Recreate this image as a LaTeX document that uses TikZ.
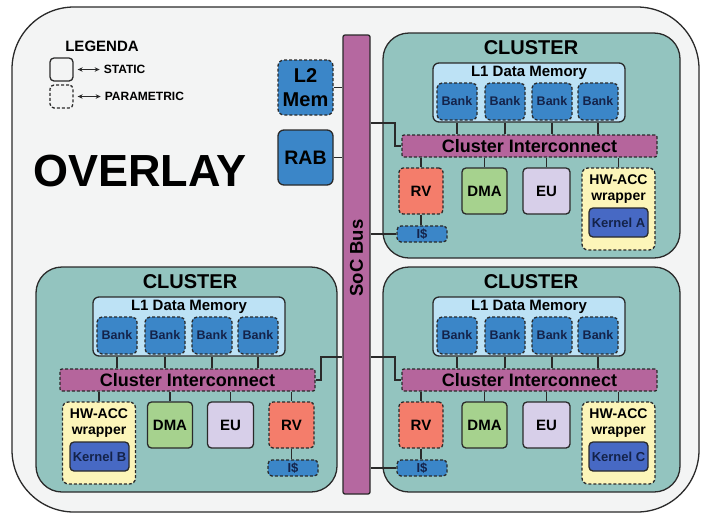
\documentclass[tikz,border=0pt]{standalone}
\usepackage{fontspec}
\setmainfont{Liberation Sans}
\usetikzlibrary{positioning,arrows.meta}

\definecolor{bgfill}{HTML}{F3F4F4}
\definecolor{clufill}{HTML}{93C4BF}
\definecolor{l1fill}{HTML}{BDE2F5}
\definecolor{bankfill}{HTML}{3B86C8}
\definecolor{icfill}{HTML}{B5659C}
\definecolor{rvfill}{HTML}{F47D6B}
\definecolor{dmafill}{HTML}{A6D28E}
\definecolor{eufill}{HTML}{D7CFE9}
\definecolor{hwfill}{HTML}{FCF5B9}
\definecolor{kerfill}{HTML}{4769C4}
\definecolor{busfill}{HTML}{B568A0}
\definecolor{linecol}{HTML}{2A2A2A}
\definecolor{navytext}{HTML}{14234A}

\tikzset{
 fs/.style={font=\fontsize{#1}{#1}\selectfont\bfseries},
 sz/.style 2 args={minimum width=#1pt,minimum height=#2pt},
 blk/.style={draw=linecol,line width=1.3pt,rounded corners=4pt,inner sep=0pt,align=center},
 stat/.style={blk},
 param/.style={blk,dash pattern=on 3pt off 2pt},
 txt/.style={inner sep=0pt,align=center},
 wire/.style={draw=linecol,line width=1.3pt},
 legarrow/.style={wire,line width=1.1pt,{Stealth[length=5pt,width=4.5pt]}-{Stealth[length=5pt,width=4.5pt]}},
}

\begin{document}
\begin{tikzpicture}[x=1pt,y=-1pt]
\useasboundingbox (0,0) rectangle (703,515);
\node[stat,fill=bgfill,rounded corners=62pt,sz={687}{505}] (frame) at (355.5,259.5) {};

% legend
\node[txt,fs=15] (leg) at (102,46) {LEGENDA};
\node[stat,sz={23}{23}] (stat) at (61.5,69.5) {};
\node[txt,fs=12,right=30pt of stat] (statlbl) {STATIC};
\node[param,sz={23}{23}] (par) at (61.5,96.5) {};
\node[txt,fs=12,right=31pt of par] (parlbl) {PARAMETRIC};
\draw[legarrow] ([xshift=4pt]stat.east) -- ([xshift=-4pt]statlbl.west);
\draw[legarrow] ([xshift=4pt]par.east) -- ([xshift=-4pt]parlbl.west);

\node[txt,fs=45] (ovl) at (140,171) {OVERLAY};

% soc bus, L2, RAB
\node[stat,fill=busfill,rounded corners=2pt,sz={27}{459}] (bus) at (356.5,264.5) {};
\node[txt,fs=18.5,rotate=90] (buslbl) at (356.5,258) {SoC Bus};
\node[param,fill=bankfill,sz={55}{55},fs=20,rounded corners=6pt] (l2) at (305.5,87.5) {L2\\[4pt]Mem};
\node[stat,fill=bankfill,sz={55}{55},fs=19.5,rounded corners=6pt] (rab) at (305.5,157.5) {RAB};
\draw[wire] (l2.east) -- (l2.east -| bus.west);
\draw[wire] (rab.east) -- (rab.east -| bus.west);

% right clusters
\foreach \c/\dy/\k in {a/0/A,c/234/C}{
\begin{scope}[shift={(0,\dy)}]
\node[stat,fill=clufill,rounded corners=26pt,sz={297}{225}] (\c-clu) at (531.5,145.5) {};
\node[txt,fs=20] (\c-ttl) at (531,48) {CLUSTER};
\node[stat,fill=l1fill,rounded corners=6pt,sz={192}{59}] (\c-l1) at (529,92.5) {};
\node[txt,fs=15] (\c-l1t) at (529,73) {L1 Data Memory};
\foreach \i/\bx in {1/457,2/505,3/552,4/598}
  \node[param,fill=bankfill,sz={40}{37},fs=12.5,text=navytext,rounded corners=5pt] (\c-b\i) at (\bx,101.5) {Bank};
\node[param,fill=icfill,rounded corners=2pt,sz={255}{22},fs=18] (\c-ic) at (529.5,146) {Cluster Interconnect};
\node[param,fill=rvfill,sz={44}{46},fs=15] (\c-rv) at (421,191) {RV};
\node[stat,fill=dmafill,sz={45}{46},fs=15] (\c-dma) at (484.5,191) {DMA};
\node[stat,fill=eufill,sz={47}{46},fs=15] (\c-eu) at (546.5,191) {EU};
\node[param,fill=hwfill,sz={73}{82},rounded corners=6pt] (\c-hw) at (618.5,209) {};
\node[txt,fs=14] (\c-hwt) at (618.5,189) {HW-ACC\\[2pt]wrapper};
\node[stat,fill=kerfill,sz={59}{29},fs=13,text=navytext] (\c-ker) at (618.5,222.5) {Kernel \k};
\node[param,fill=bankfill,sz={50}{16},fs=13,text=navytext] (\c-is) at (422,234) {I\$};
\foreach \i in {1,...,4}
  \draw[wire] (\c-b\i.south |- \c-l1.south) -- (\c-b\i.south |- \c-ic.north);
\foreach \n in {rv,dma,eu,hw}
  \draw[wire] (\c-\n.north) -- (\c-\n.north |- \c-ic.south);
\draw[wire] (\c-rv.south) -- (\c-rv.south |- \c-is.north);
\draw[wire] (\c-is.west) -- (\c-is.west -| bus.east);
\coordinate (\c-j) at (395,123);
\draw[wire] (bus.east |- \c-j) -- (\c-j) |- (\c-ic.west);
\end{scope}}

% left cluster
\node[stat,fill=clufill,rounded corners=26pt,sz={301}{225}] (b-clu) at (186.5,379.5) {};
\node[txt,fs=20] (b-ttl) at (190,282) {CLUSTER};
\node[stat,fill=l1fill,rounded corners=6pt,sz={192}{59}] (b-l1) at (189,326.5) {};
\node[txt,fs=15] (b-l1t) at (189,307) {L1 Data Memory};
\foreach \i/\bx in {1/117,2/165,3/212,4/258}
  \node[param,fill=bankfill,sz={40}{37},fs=12.5,text=navytext,rounded corners=5pt] (b-b\i) at (\bx,335.5) {Bank};
\node[param,fill=icfill,rounded corners=2pt,sz={255}{22},fs=18] (b-ic) at (187.5,380) {Cluster Interconnect};
\node[param,fill=hwfill,sz={73}{82},rounded corners=6pt] (b-hw) at (99,443) {};
\node[txt,fs=14] (b-hwt) at (99,423) {HW-ACC\\[2pt]wrapper};
\node[stat,fill=kerfill,sz={59}{29},fs=13,text=navytext] (b-ker) at (99.5,456.5) {Kernel B};
\node[stat,fill=dmafill,sz={45}{46},fs=15] (b-dma) at (170,425) {DMA};
\node[stat,fill=eufill,sz={46}{46},fs=15] (b-eu) at (230.5,425) {EU};
\node[param,fill=rvfill,sz={45}{46},fs=15] (b-rv) at (291.5,425) {RV};
\node[param,fill=bankfill,sz={50}{16},fs=13,text=navytext] (b-is) at (293,468) {I\$};
\foreach \i in {1,...,4}
  \draw[wire] (b-b\i.south |- b-l1.south) -- (b-b\i.south |- b-ic.north);
\foreach \n in {hw,dma,eu,rv}
  \draw[wire] (b-\n.north) -- (b-\n.north |- b-ic.south);
\draw[wire] (b-rv.south) -- (b-rv.south |- b-is.north);
\coordinate (b-j) at (321,357);
\draw[wire] (b-ic.east) -| (b-j) -- (b-j -| bus.west);
\end{tikzpicture}
\end{document}
